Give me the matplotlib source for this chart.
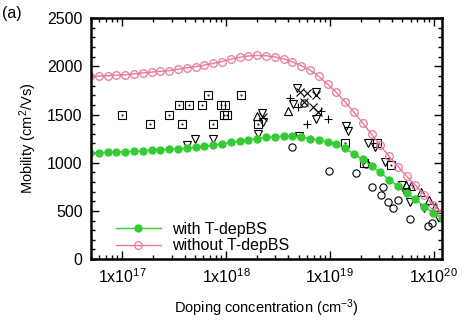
# Mobility vs doping concentration, with and without T-dependent BS
import numpy as np
import matplotlib
matplotlib.use('Agg')
import matplotlib.pyplot as plt
from matplotlib.ticker import MultipleLocator, LogLocator, FixedLocator, NullFormatter

plt.rcParams['font.family'] = ['Liberation Sans', 'DejaVu Sans']
plt.rcParams['mathtext.default'] = 'regular'

# Model curves (sampled on a log grid of doping)
dop_curve = np.logspace(16.69, 20.08, 41)
mob_with = [1103, 1105, 1108, 1111, 1114, 1118, 1124, 1131, 1135, 1139,
            1144, 1149, 1158, 1169, 1180, 1195, 1210, 1225, 1238, 1250,
            1262, 1270, 1275, 1276, 1265, 1250, 1235, 1215, 1190, 1150,
            1090, 1035, 965, 900, 825, 755, 690, 620, 545, 480, 425]
mob_without = [1898, 1898, 1903, 1908, 1912, 1922, 1932, 1940, 1948, 1955,
               1970, 1985, 1997, 2012, 2030, 2050, 2073, 2094, 2107, 2113,
               2110, 2098, 2078, 2046, 2008, 1962, 1895, 1815, 1730, 1630,
               1525, 1412, 1295, 1180, 1065, 960, 860, 765, 668, 560, 480]

# Measured data
sq_x = [1e17, 1.87e17, 2.85e17, 3.56e17, 3.73e17, 4.36e17, 5.82e17, 6.65e17,
        7.43e17, 8.89e17, 9.7e17, 9.5e17, 1.02e18, 1.39e18, 2.03e18,
        1.41e19, 2.15e19, 2.88e19, 3.93e19]
sq_y = [1500, 1400, 1500, 1600, 1400, 1600, 1600, 1700,
        1400, 1600, 1600, 1500, 1500, 1700, 1400,
        1200, 1000, 1200, 975]

tdn_x = [4.26e17, 4.98e17, 7.43e17, 4.83e18, 7.38e18, 4.43e18, 2.22e18,
         2.27e18, 2.03e18, 5.06e18, 7.38e18, 1.44e19, 1.51e19, 2.35e19,
         2.75e19, 3.37e19, 4.92e19, 5.25e19, 5.87e19, 8.02e19, 1.1e20]
tdn_y = [1180, 1250, 1250, 1780, 1730, 1610, 1520,
         1420, 1300, 1275, 1450, 1380, 1330, 1200,
         1160, 1010, 770, 700, 590, 530, 435]

tup_x = [3.95e18, 1.98e18, 5.37e19, 6.0e19, 7.5e19, 8.95e19, 1.03e20]
tup_y = [1535, 1485, 770, 760, 700, 610, 540]

plus_x = [4.14e18, 4.94e18, 8.26e18, 6.04e18, 9.66e18]
plus_y = [1670, 1580, 1535, 1400, 1450]

cross_x = [5.17e18, 6.04e18, 7.38e18, 5.65e18, 6.9e18, 7.73e18, 2.27e18]
cross_y = [1730, 1720, 1700, 1630, 1580, 1525, 1470]

circ_x = [4.33e18, 5.65e18, 9.87e18, 1.8e19, 2.25e19, 2.57e19, 3.29e19,
          3.15e19, 3.6e19, 4.11e19, 4.59e19, 5.87e19, 8.77e19, 9.6e19]
circ_y = [1160, 1620, 915, 895, 985, 750, 750,
          665, 590, 530, 610, 415, 340, 375]

x_ticks = [1e17, 1e18, 1e19, 1e20]
x_labels = ['1x10$^{17}$', '1x10$^{18}$', '1x10$^{19}$', '1x10$^{20}$']

green = '#33cc33'
pink = '#e8789c'

fig = plt.figure(figsize=(4.71, 3.30), dpi=100)
ax = fig.add_axes([0.193, 0.215, 0.745, 0.730])

ms = 5.2
mk = dict(linestyle='none', color='black', markerfacecolor='none',
          markersize=ms, markeredgewidth=0.8)
ax.plot(sq_x, sq_y, marker='s', **mk)
ax.plot(sq_x, sq_y, linestyle='none', marker='.', color='black', markersize=1.0)
ax.plot(tdn_x, tdn_y, marker='v', **mk)
ax.plot(tup_x, tup_y, marker='^', **mk)
ax.plot(plus_x, plus_y, marker='+', **mk)
ax.plot(cross_x, cross_y, marker='x', **mk)
ax.plot(circ_x, circ_y, marker='o', **mk)

ax.plot(dop_curve, mob_with, color=green, lw=1.0, marker='o', markersize=5,
        markerfacecolor=green, markeredgecolor=green, label='with T-depBS')
ax.plot(dop_curve, mob_without, color=pink, lw=1.0, marker='o', markersize=5.5,
        markerfacecolor='none', markeredgecolor=pink, markeredgewidth=0.9,
        label='without T-depBS')

ax.set_xscale('log')
ax.set_xlim(5e16, 1.2e20)
ax.set_ylim(0, 2500)

ax.xaxis.set_major_locator(FixedLocator(x_ticks))
ax.set_xticklabels(x_labels)
ax.xaxis.set_minor_locator(LogLocator(base=10, subs=np.arange(2, 10), numticks=20))
ax.xaxis.set_minor_formatter(NullFormatter())
ax.yaxis.set_major_locator(MultipleLocator(500))
ax.yaxis.set_minor_locator(MultipleLocator(100))

ax.tick_params(which='both', direction='in', top=True, right=True, width=1.0)
ax.tick_params(which='major', length=6, labelsize=11.5, pad=6)
ax.tick_params(which='minor', length=3)
for s in ax.spines.values():
    s.set_linewidth(1.8)

ax.set_xlabel('Doping concentration (cm$^{-3}$)', fontsize=10.5, labelpad=8)
ax.set_ylabel('Mobility (cm$^{2}$/Vs)', fontsize=10.5, labelpad=6)

ax.legend(loc='lower left', bbox_to_anchor=(0.03, -0.035), frameon=False,
          fontsize=11.5, handlelength=2.8, handletextpad=0.7, labelspacing=0.1)

fig.text(0.005, 0.96, '(a)', fontsize=11.5, va='center', ha='left')

fig.savefig('out.png', dpi=100)
